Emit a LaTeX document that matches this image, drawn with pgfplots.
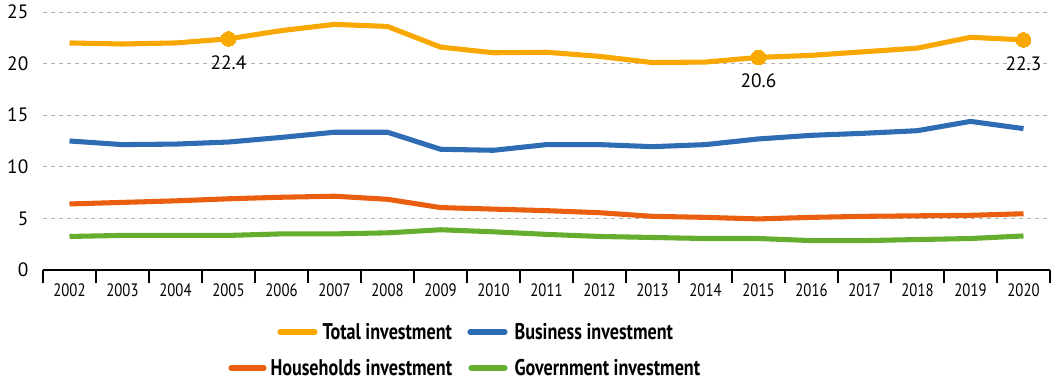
\documentclass[border=0pt]{standalone}
\usepackage{pgfplots}
\pgfplotsset{compat=1.18}
\usepackage{fontspec}
\setmainfont{PT Sans}
\newfontfamily\condfont[FakeStretch=0.82]{PT Sans}
\newfontfamily\condbold[FakeStretch=0.8]{PT Sans Bold}
\definecolor{ctotal}{HTML}{F8A800}
\definecolor{cbus}{HTML}{2E6DB4}
\definecolor{chh}{HTML}{E95E0F}
\definecolor{cgov}{HTML}{65AD2E}
\begin{document}
\begin{tikzpicture}
\useasboundingbox (-32.25pt,-83.25pt) rectangle (758.25pt,202.5pt);
\begin{axis}[
  at={(0,0)}, anchor=south west,
  scale only axis, width=755.25pt, height=193.5pt,
  xmin=-0.5, xmax=18.5, ymin=0, ymax=25,
  axis x line=bottom, axis y line=left,
  axis line style={-},
  x axis line style={line width=1.6pt, black},
  y axis line style={draw=none},
  xtick={0,...,18},
  xticklabels={2002,2003,2004,2005,2006,2007,2008,2009,2010,2011,2012,2013,2014,2015,2016,2017,2018,2019,2020},
  minor xtick={-0.5,0.5,...,18.5},
  major x tick style={draw=none},
  minor x tick style={line width=1.6pt, black},
  tick align=outside,
  minor tick length=10pt,
  major tick length=0pt,
  ytick={0,5,...,25},
  y tick style={draw=none},
  ymajorgrids,
  grid style={dashed, gray!60, line width=0.7pt},
  /pgf/number format/assume math mode=true,
  xticklabel style={font=\fontsize{13.5}{14}\condfont, yshift=-6.5pt},
  yticklabel style={font=\fontsize{14.5}{15}\selectfont, xshift=-7.5pt},
  clip=false,
  line join=round,
]
\addplot[ctotal, line width=3.8pt] coordinates {
(0,22.0)(1,21.9)(2,22.0)(3,22.4)(4,23.2)(5,23.8)(6,23.6)(7,21.6)(8,21.05)(9,21.1)(10,20.7)(11,20.1)(12,20.15)(13,20.6)(14,20.8)(15,21.15)(16,21.5)(17,22.55)(18,22.3)};
\addplot[cbus, line width=3.8pt] coordinates {
(0,12.5)(1,12.15)(2,12.2)(3,12.4)(4,12.85)(5,13.35)(6,13.35)(7,11.7)(8,11.6)(9,12.15)(10,12.15)(11,11.95)(12,12.15)(13,12.7)(14,13.05)(15,13.25)(16,13.5)(17,14.4)(18,13.7)};
\addplot[chh, line width=3.8pt] coordinates {
(0,6.4)(1,6.55)(2,6.7)(3,6.9)(4,7.05)(5,7.15)(6,6.85)(7,6.05)(8,5.9)(9,5.75)(10,5.55)(11,5.2)(12,5.1)(13,4.95)(14,5.1)(15,5.2)(16,5.25)(17,5.3)(18,5.45)};
\addplot[cgov, line width=3.8pt] coordinates {
(0,3.25)(1,3.35)(2,3.35)(3,3.35)(4,3.5)(5,3.5)(6,3.6)(7,3.9)(8,3.7)(9,3.45)(10,3.25)(11,3.15)(12,3.05)(13,3.05)(14,2.85)(15,2.85)(16,2.95)(17,3.05)(18,3.3)};
\addplot[ctotal, only marks, mark=*, mark size=5.5pt, mark options={solid, fill=ctotal, draw=ctotal, line width=0pt},
  nodes near coords, point meta=explicit symbolic,
  every node near coord/.append style={anchor=north, yshift=-9pt, font=\fontsize{14.5}{15}\selectfont, text=black}]
  coordinates {(3,22.4)[22.4] (13,20.6)[20.6] (18,22.3)[22.3]};
\end{axis}
\begin{scope}[line width=3.8pt, line cap=round]
\def\lf{\fontsize{17}{18}\condbold}
\draw[ctotal] (177.75pt,-46.5pt) -- (204pt,-46.5pt);
\node[anchor=west, inner sep=0pt, font=\lf] at (207.75pt,-46.5pt) {Total investment};
\draw[cbus] (320.25pt,-46.5pt) -- (346.5pt,-46.5pt);
\node[anchor=west, inner sep=0pt, font=\lf] at (351.75pt,-46.5pt) {Business investment};
\draw[chh] (141pt,-73.5pt) -- (165.75pt,-73.5pt);
\node[anchor=west, inner sep=0pt, font=\lf] at (168.75pt,-73.5pt) {Households investment};
\draw[cgov] (321pt,-73.5pt) -- (346.5pt,-73.5pt);
\node[anchor=west, inner sep=0pt, font=\lf] at (351.75pt,-73.5pt) {Government investment};
\end{scope}
\end{tikzpicture}
\end{document}
